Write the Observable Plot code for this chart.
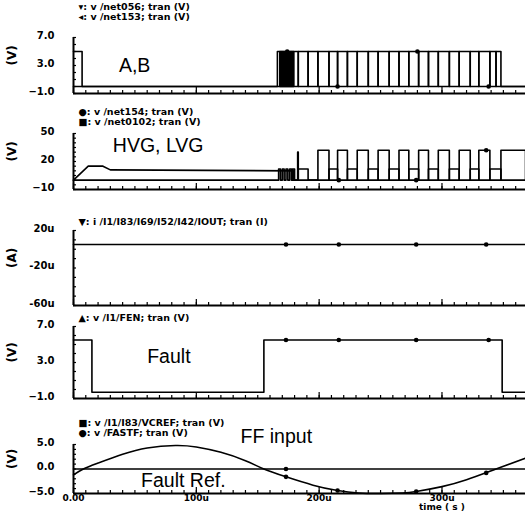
<!DOCTYPE html>
<html><head><meta charset="utf-8">
<script src="https://cdn.jsdelivr.net/npm/d3@7"></script>
<script src="https://cdn.jsdelivr.net/npm/@observablehq/plot@0.6"></script>
<style>
body{margin:0;background:#fff}
#chart{position:relative;width:525px;height:514px;overflow:hidden;background:#fff}
#chart svg{position:absolute;left:0}
</style></head><body><div id="chart"></div>
<script>
// ---------- data ----------
const tMax = 368; // µs, right edge of the time axis
const xTickValues = [0, 100, 200, 300];
const xTickLabels = ["0.00", "100u", "200u", "300u"];
const xMinorTicks = d3.range(0, 361, 10);

// Panel 1: A,B logic inputs (V)
const abStartHigh = [0, 7];            // A high from t=0 to 7u
const abEdges = [166, 168, 168.7, 169.4, 170.1, 170.8, 171.5, 172.2, 172.9, 173.6, 174.3, 175, 175.7, 176.4, 177.1, 177.8, 178.5, 179.2, 183, 191, 199, 208, 215, 223, 231, 240, 248, 257, 265, 273, 281, 289, 297, 306, 314, 323, 330, 339, 344, 348];
const abHigh = 5, abLow = 0;
const abMarkT = [174, 215, 280, 338];

// Panel 2: HVG / LVG (V)
const hvgStartT = [0, 12, 24, 30, 179, 179, 182.5, 182.5, 183, 183];
const hvgStartV = [0, 15, 15, 11, 10, 0, 0, 30, 30, 0];
const hvgPulses = [[199,208],[215,223],[231,240],[248,257],[265,273],[281,289],[297,306],[314,323],[330,339],[348,368]];
const lvgPulses = [[167,168.5],[170,171.5],[173,174.5],[176,177.5],[178.5,180],[183,191],[208,215],[223,231],[240,248],[257,265],[273,281],[289,297],[306,314],[323,330],[339,348]];
const hvgHigh = 32, lvgHigh = 12, gateLow = 0;
const hvgMarkT = [279, 336];
const lvgMarkT = [216];

// Panel 3: IOUT (µA)
const ioutT = [0, 368];
const ioutV = [5, 5];
const ioutMarkT = [173, 216, 279, 336];

// Panel 4: FEN (V)
const fenT = [0, 15, 155, 349, 368];
const fenV = [5.5, -0.3, 5.5, -0.3, -0.3];
const fenMarkT = [173, 216, 279, 338];

// Panel 5: VCREF (flat) and FASTF (FF input) (V)
const vcrefT = [0, 368];
const vcrefV = [0, 0];
const vcrefMarkT = [173];
const fastT = [0, 8, 20, 40, 60, 83, 100, 120, 140, 155, 173, 195, 215, 232, 250, 268, 279, 300, 320, 344, 368];
const fastV = [-1.2, 0, 1.2, 3.0, 4.3, 4.8, 4.5, 3.4, 1.7, 0, -1.6, -3.3, -4.4, -4.9, -5.0, -4.9, -4.6, -3.6, -2.2, 0, 2.2];
const fastMarkT = [173, 215, 279, 336];
const fastMarkV = [-1.6, -4.4, -4.6, -0.8];

// ---------- helpers ----------
const zip = (T, V) => T.map((t, i) => ({t, v: V[i]}));
function stepAt(series, t) { let v = series[0].v; for (const p of series) if (p.t <= t) v = p.v; return v; }
function pulsesToSeries(pulses, hi, lo) {
  const s = [{t: 0, v: lo}];
  for (const [a, b] of pulses) { s.push({t: a, v: lo}, {t: a, v: hi}, {t: b, v: hi}, {t: b, v: lo}); }
  s.push({t: tMax, v: lo});
  return s;
}
// A / B from edges (complementary while switching)
const A = [{t: abStartHigh[0], v: abHigh}, {t: abStartHigh[1], v: abHigh}, {t: abStartHigh[1], v: abLow}];
const B = [{t: 0, v: abLow}];
abEdges.forEach((e, i) => {
  const last = i === abEdges.length - 1;
  const aPrev = A[A.length - 1].v, bPrev = B[B.length - 1].v;
  const aNew = last ? abLow : (i % 2 === 0 ? abHigh : abLow);
  const bNew = last ? abLow : (i === 0 ? abLow : (i % 2 === 0 ? abLow : abHigh));
  A.push({t: e, v: aPrev}, {t: e, v: aNew});
  B.push({t: e, v: bPrev}, {t: e, v: bNew});
});
A.push({t: tMax, v: abLow}); B.push({t: tMax, v: abLow});

const HVG = zip(hvgStartT, hvgStartV);
for (const [a, b] of hvgPulses) HVG.push({t: a, v: gateLow}, {t: a, v: hvgHigh}, {t: b, v: hvgHigh}, {t: b, v: gateLow});
const LVG = pulsesToSeries(lvgPulses, lvgHigh, gateLow);

// ---------- drawing ----------
const FONT = "DejaVu Sans";
const root = document.getElementById("chart");

function panel(o) {
  const marks = [
    Plot.axisY({ticks: o.yTicks, tickFormat: o.yFmt, tickSize: 0, tickPadding: 19, dy: -2, label: null, fontWeight: "bold", fontSize: 10}),
    Plot.axisY({ticks: o.yMinor, tickSize: 3, dx: 3, tickFormat: () => "", label: null, strokeWidth: 1.2}),
    Plot.axisX({ticks: xMinorTicks, tickSize: 3, dy: -3, tickFormat: () => "", label: null, strokeWidth: 1.2}),
    Plot.axisX({ticks: xTickValues, tickSize: 6, dy: -6, tickFormat: () => "", label: null, strokeWidth: 1.2}),
    Plot.ruleX([0], {strokeWidth: 2}),
    Plot.ruleY([o.yDomain[0]], {strokeWidth: 2}),
    Plot.text([o.unit], {frameAnchor: "left", dx: -61, rotate: -90, fontSize: 12, fontWeight: "bold"}),
    Plot.text([o.legend.join("\n")], {frameAnchor: "top-left", dx: 5, dy: o.legendDy, lineAnchor: "top", textAnchor: "start", fontSize: 9.5, fontWeight: "bold", lineHeight: 1.0}),
    ...o.marks
  ];
  if (o.xLabels) {
    marks.push(Plot.axisX({ticks: xTickValues, tickFormat: (d, i) => xTickLabels[i], tickSize: 0, tickPadding: 1, label: null, fontWeight: "bold", fontSize: 9}));
    marks.push(Plot.text([{t: xTickValues[3], s: "time ( s )"}], {x: "t", text: "s", frameAnchor: "bottom", dy: 16, fontWeight: "bold", fontSize: 9}));
  }
  const svg = Plot.plot({
    width: 525, height: o.height,
    marginLeft: 73, marginRight: 0, marginTop: o.mt, marginBottom: o.mb,
    x: {domain: [0, tMax], axis: null},
    y: {domain: o.yDomain, axis: null},
    style: {fontFamily: FONT, color: "#000", background: "transparent", overflow: "visible"},
    marks
  });
  svg.style.top = o.top + "px";
  root.appendChild(svg);
}
const ann = (t, v, text) => Plot.text([{t, v, text}], {x: "t", y: "v", text: "text", textAnchor: "start", fontFamily: "Liberation Sans", fontSize: 19.5, fill: "#000"});
const line = (data, w = 1.6) => Plot.line(data, {x: "t", y: "v", stroke: "#000", strokeWidth: w});
const dots = (data) => Plot.dot(data, {x: "t", y: "v", r: 2.3, fill: "#000"});

// Panel 1
panel({top: 0, height: 100, mt: 37, mb: 7, yDomain: [-1, 7], yTicks: [7, 3, -1], yFmt: d3.format(".1f"), yMinor: d3.range(-1, 7.1, 1), unit: "(V)",
  legend: ["▾: v /net056; tran (V)", "◂: v /net153; tran (V)"], legendDy: -34,
  marks: [line(A), line(B), dots(abMarkT.map(t => ({t, v: stepAt(B, t)}))), ann(37, 3, "A,B")]});

// Panel 2
panel({top: 100, height: 96, mt: 33, mb: 7, yDomain: [-10, 50], yTicks: [50, 20, -10], yFmt: d3.format("d"), yMinor: d3.range(-10, 51, 5), unit: "(V)",
  legend: ["●: v /net154; tran (V)", "■: v /net0102; tran (V)"], legendDy: -25,
  marks: [line(HVG), line(LVG), dots(hvgMarkT.map(t => ({t, v: stepAt(HVG, t)}))), dots(lvgMarkT.map(t => ({t, v: stepAt(LVG, t)}))), ann(32, 37, "HVG, LVG")]});

// Panel 3
panel({top: 196, height: 112, mt: 34, mb: 3, yDomain: [-60, 20], yTicks: [20, -20, -60], yFmt: d => d + "u", yMinor: d3.range(-60, 21, 10), unit: "(A)",
  legend: ["▼: i /I1/I83/I69/I52/I42/IOUT; tran (I)"], legendDy: -12,
  marks: [line(zip(ioutT, ioutV)), dots(ioutMarkT.map(t => ({t, v: ioutV[0]})))]});

// Panel 4
const FEN = zip(fenT, fenV);
panel({top: 308, height: 95, mt: 18, mb: 5, yDomain: [-1, 7], yTicks: [7, 3, -1], yFmt: d3.format(".1f"), yMinor: d3.range(-1, 7.1, 1), unit: "(V)",
  legend: ["▲: v /I1/FEN; tran (V)"], legendDy: -12,
  marks: [Plot.line(FEN, {x: "t", y: "v", curve: "step-after", stroke: "#000", strokeWidth: 1.6}), dots(fenMarkT.map(t => ({t, v: stepAt(FEN, t)}))), ann(60, 3.6, "Fault")]});

// Panel 5
panel({top: 403, height: 111, mt: 41, mb: 21, yDomain: [-5, 5], yTicks: [5, 0, -5], yFmt: d3.format(".1f"), yMinor: d3.range(-5, 5.1, 1), unit: "(V)",
  legend: ["■: v /I1/I83/VCREF; tran (V)", "●: v /FASTF; tran (V)"], legendDy: -25, xLabels: true,
  marks: [line(zip(vcrefT, vcrefV)), Plot.line(zip(fastT, fastV), {x: "t", y: "v", curve: "natural", stroke: "#000", strokeWidth: 1.6}),
    dots(vcrefMarkT.map(t => ({t, v: 0}))), dots(zip(fastMarkT, fastMarkV)),
    ann(136, 6.6, "FF input"), ann(55, -2.4, "Fault Ref.")]});
</script></body></html>
